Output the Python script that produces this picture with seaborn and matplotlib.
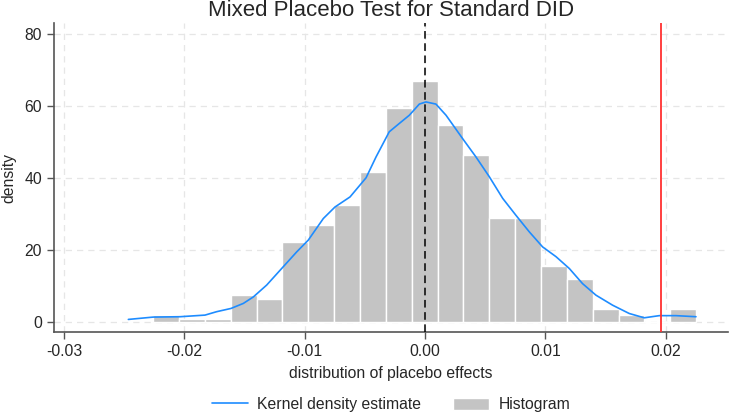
import matplotlib
matplotlib.use("Agg")
import matplotlib.pyplot as plt
import seaborn as sns
import pandas as pd

# Histogram bins (density scale)
bin_lo = -0.0226
bin_width = 0.00215
hist_density = [1.8, 0.9, 0.8, 7.3, 6.4, 22.2, 26.9, 32.4, 41.6, 59.3, 66.8,
                54.6, 46.3, 28.7, 28.7, 15.6, 11.9, 3.5, 1.8, 0.0, 3.5]

# Kernel density estimate curve
kde_x = [-0.02466, -0.02259, -0.02037, -0.01829, -0.01732, -0.01613, -0.0151,
         -0.01427, -0.01316, -0.01178, -0.01067, -0.0097, -0.00845, -0.00748,
         -0.00623, -0.0049, -0.00407, -0.00297, -0.00214, -0.0013, -0.00047,
         0.00008, 0.00091, 0.00175, 0.00313, 0.00424, 0.00535, 0.00646,
         0.00756, 0.00867, 0.00978, 0.01089, 0.012, 0.0131, 0.01421, 0.0156,
         0.01698, 0.01823, 0.01948, 0.02086, 0.02253]
kde_y = [0.65, 1.3, 1.4, 1.85, 2.8, 3.7, 5.1, 6.9, 10.2, 15.3, 19.4, 22.7, 28.7,
         31.9, 34.7, 40.0, 45.8, 52.8, 55.1, 57.4, 60.5, 61.1, 60.5, 57.4, 50.9,
         45.8, 40.3, 34.3, 29.6, 25.0, 20.8, 18.1, 14.8, 10.6, 7.4, 4.6, 2.3,
         1.1, 1.7, 1.7, 1.4]

true_effect = 0.0196
x_ticks = [-0.03, -0.02, -0.01, 0.00, 0.01, 0.02]
y_ticks = [0, 20, 40, 60, 80]

edges = [bin_lo + bin_width * i for i in range(len(hist_density) + 1)]
centers = [(a + b) / 2 for a, b in zip(edges[:-1], edges[1:])]
hist_df = pd.DataFrame({"x": centers, "w": hist_density})
kde_df = pd.DataFrame({"x": kde_x, "y": kde_y})

sns.set_style("white")
plt.rcParams['font.family'] = ['Liberation Sans', 'DejaVu Sans']

fs = 11.3
fig = plt.figure(figsize=(7.32, 4.13), dpi=100)
ax = fig.add_axes([0.0738, 0.196, 0.9207, 0.748])

sns.histplot(data=hist_df, x="x", weights="w", bins=edges, stat="count",
             color="#c4c4c4", alpha=1, edgecolor="white", linewidth=1,
             label="Histogram", ax=ax, zorder=2)
sns.lineplot(data=kde_df, x="x", y="y", color="#1e8cff", linewidth=1.2,
             label="Kernel density estimate", ax=ax, zorder=3)

ax.axvline(0, color="black", linestyle=(0, (5, 3)), linewidth=1.1, zorder=4)
ax.axvline(true_effect, color="#ff3030", linewidth=1.3, zorder=4)

ax.set_xlim(-0.03084, 0.02519)
ax.set_ylim(-2.86, 83.0)
ax.set_xticks(x_ticks)
ax.set_xticklabels([f"{t:.2f}" for t in x_ticks])
ax.set_yticks(y_ticks)

ax.grid(True, color="#e6e6e6", linestyle=(0, (5, 4)), linewidth=0.9, zorder=0)
ax.set_axisbelow(True)

for s in ["top", "right"]:
    ax.spines[s].set_visible(False)
for s in ["left", "bottom"]:
    ax.spines[s].set_color("#555555")
    ax.spines[s].set_linewidth(1.2)

ax.tick_params(axis="both", which="both", direction="out", length=5, width=1,
               color="#555555", labelsize=fs, left=True, bottom=True)
ax.set_xlabel("distribution of placebo effects", fontsize=fs, labelpad=5)
ax.set_ylabel("density", fontsize=fs, labelpad=6)
ax.set_title("Mixed Placebo Test for Standard DID", fontsize=16, pad=5)

handles, labels = ax.get_legend_handles_labels()
order = [labels.index("Kernel density estimate"), labels.index("Histogram")]
ax.legend([handles[i] for i in order], [labels[i] for i in order],
          loc="center", bbox_to_anchor=(0.5, -0.235), ncol=2,
          frameon=False, fontsize=fs, columnspacing=2.0, handlelength=2.3,
          handleheight=0.8, handletextpad=0.6)

fig.savefig("out.png", dpi=100)
